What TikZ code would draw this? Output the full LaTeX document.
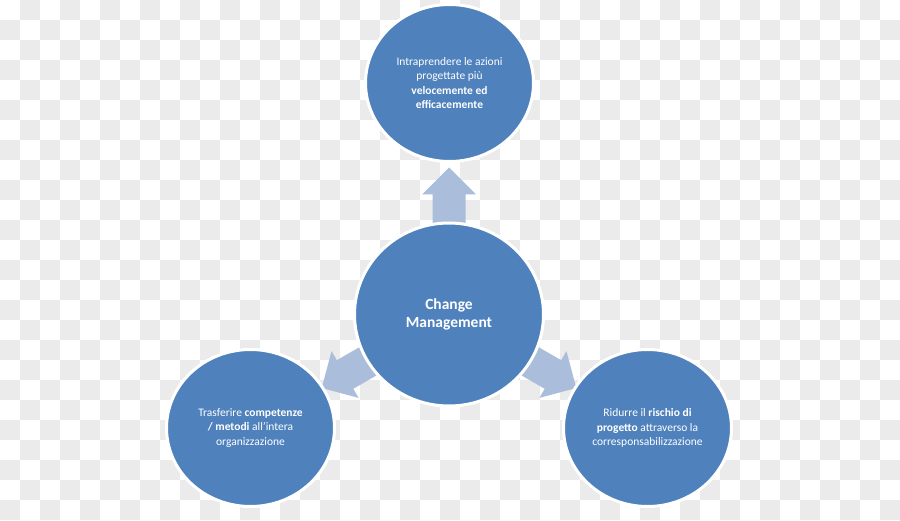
\documentclass[tikz,border=0pt]{standalone}
\usepackage{fontspec}
\setmainfont{Carlito}
\usetikzlibrary{shapes.geometric,calc}
\definecolor{disc}{HTML}{4F81BD}
\definecolor{shaft}{HTML}{AABDDB}
\definecolor{tile}{HTML}{EBEBEB}
\tikzset{
  hub/.style={ellipse, draw=white, line width=3pt, fill=disc, text=white, align=center, minimum width=189pt, minimum height=183pt, inner sep=0pt, font=\fontsize{15.5}{18}\selectfont\bfseries},
  goal/.style={ellipse, draw=white, line width=3pt, fill=disc, text=white, align=center, minimum width=168pt, minimum height=157pt, inner sep=0pt, font=\fontsize{11.5}{14.5}\selectfont},
  push/.style={fill=shaft, draw=none},
}

\begin{document}
\begin{tikzpicture}[x=1pt, y=1pt]
\useasboundingbox (0,0) rectangle (900,520);
% checkered backdrop
\foreach \i in {0,...,44}
  \foreach \j in {0,...,25}{
    \pgfmathtruncatemacro\k{\i+\j}
    \ifodd\k \fill[tile] (20*\i,500-20*\j) rectangle ++(20,20); \fi
  }
\coordinate (cm) at (449,205.5);
% block arrows under the hub
\foreach \a in {90,210,330}
  \fill[push, shift={(cm)}, rotate=\a] (80,-16.5) -- (120,-16.5) -- (120,-27) -- (147,0) -- (120,27) -- (120,16.5) -- (80,16.5) -- cycle;
\node[hub] (hub) at (cm) {Change\\Management};
\node[goal] (speed) at (449.5,437) {Intraprendere le azioni\\progettate più\\\textbf{velocemente ed}\\\textbf{efficacemente}};
\node[goal] (skills) at (250.5,92) {Trasferire \textbf{competenze}\\\textbf{/ metodi} all’intera\\organizzazione};
\node[goal] (risk) at (647.5,92) {Ridurre il \textbf{rischio di}\\\textbf{progetto} attraverso la\\corresponsabilizzazione};
\end{tikzpicture}
\end{document}
